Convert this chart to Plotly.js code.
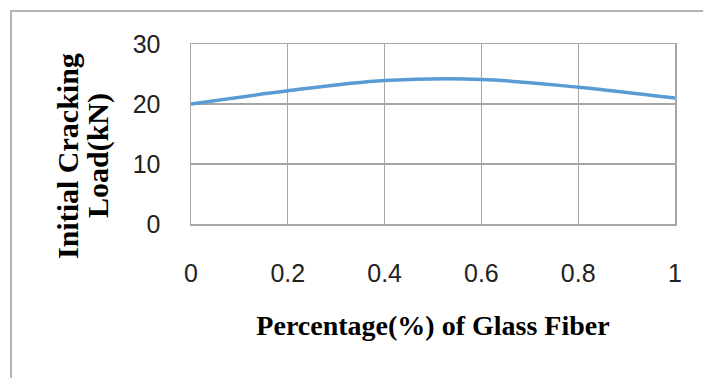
<!DOCTYPE html>
<html>
<head>
<meta charset="utf-8">
<script src="https://cdn.plot.ly/plotly-3.0.1.min.js"></script>
<style>
  html, body { margin: 0; padding: 0; background: #ffffff; }
  #frame { position: absolute; left: 10px; top: 10px; width: 720px; height: 400px;
           border-left: 2px solid #b4b4b4; border-top: 2px solid #b4b4b4; }
  #chart { position: absolute; left: 0; top: 0; width: 703px; height: 378px; }
</style>
</head>
<body>
<div id="frame"></div>
<div id="chart"></div>
<script>
// Data
const glassFiberPct = [0, 0.2, 0.4, 0.6, 0.8, 1];
const crackingLoad = [20, 22.2, 23.9, 24.1, 22.8, 21];
const xTickVals = [0, 0.2, 0.4, 0.6, 0.8, 1];
const xTickText = ['0', '0.2', '0.4', '0.6', '0.8', '1'];
const yTickVals = [0, 10, 20, 30];
const yTickText = ['0', '10', '20', '30'];
const xTitle = 'Percentage(%) of Glass Fiber';
const yTitleLines = ['Initial Cracking', 'Load(kN)'];

const tickFont = { family: 'Liberation Sans, Arial, sans-serif', size: 25, color: '#222222' };
const titleFont = { family: 'Liberation Serif, Times New Roman, serif', size: 28, color: '#000000' };
const yTitleFont = { family: 'Liberation Serif, Times New Roman, serif', size: 30, color: '#000000' };

const trace = {
  x: glassFiberPct,
  y: crackingLoad,
  type: 'scatter',
  mode: 'lines',
  line: { color: '#5b9bd5', width: 3.5, shape: 'spline', smoothing: 1 },
  hoverinfo: 'x+y'
};

const layout = {
  width: 703,
  height: 378,
  margin: { l: 191, r: 28, t: 44, b: 154 },
  paper_bgcolor: 'rgba(0,0,0,0)',
  plot_bgcolor: '#ffffff',
  showlegend: false,
  xaxis: {
    range: [0, 1],
    tickvals: xTickVals,
    ticktext: xTickText,
    showgrid: true,
    gridcolor: '#a6a6a6',
    gridwidth: 1.3,
    zeroline: false,
    showline: true,
    mirror: true,
    linecolor: '#a6a6a6',
    linewidth: 1.5,
    ticks: '',
    ticklabelstandoff: 26,
    tickfont: tickFont,
    title: { text: '<b>' + xTitle + '</b>', font: titleFont, standoff: 30 }
  },
  yaxis: {
    range: [0, 30],
    tickvals: yTickVals,
    ticktext: yTickText,
    showgrid: true,
    gridcolor: '#a6a6a6',
    gridwidth: 1.3,
    zeroline: false,
    showline: true,
    mirror: true,
    linecolor: '#a6a6a6',
    linewidth: 1.5,
    ticks: '',
    ticklabelstandoff: 24,
    tickfont: tickFont
  },
  annotations: [
    {
      text: '<b>' + yTitleLines[0] + '</b>',
      xref: 'paper', yref: 'paper',
      x: (67 - 191) / 484, y: (224 - 156) / 180,
      xanchor: 'center', yanchor: 'middle',
      textangle: -90, showarrow: false,
      font: yTitleFont
    },
    {
      text: '<b>' + yTitleLines[1] + '</b>',
      xref: 'paper', yref: 'paper',
      x: (98 - 191) / 484, y: (224 - 156) / 180,
      xanchor: 'center', yanchor: 'middle',
      textangle: -90, showarrow: false,
      font: yTitleFont
    }
  ]
};

Plotly.newPlot('chart', [trace], layout, { displayModeBar: false, staticPlot: true });
</script>
</body>
</html>
